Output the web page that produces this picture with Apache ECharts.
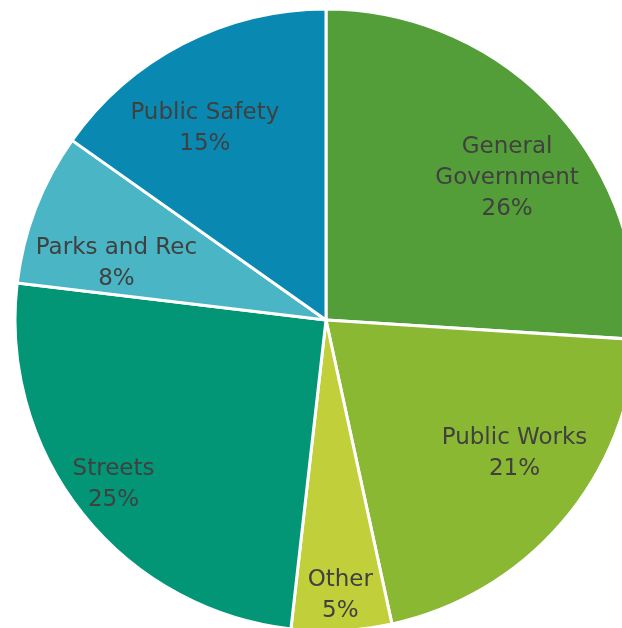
<!DOCTYPE html>
<html>
<head>
<meta charset="utf-8">
<script src="https://cdn.jsdelivr.net/npm/echarts@6/dist/echarts.min.js"></script>
<style>
  html, body { margin: 0; padding: 0; background: #fff; }
  #main { width: 622px; height: 628px; }
</style>
</head>
<body>
<div id="main"></div>
<script>
var categories = ['General Government', 'Public Works', 'Other', 'Streets', 'Parks and Rec', 'Public Safety'];
var shares = [26.0, 20.6, 5.2, 25.1, 7.9, 15.2];
var colors = ['#549E39', '#8AB833', '#C0CF3A', '#029676', '#4AB5C4', '#0989B1'];

// label placement inside each slice: fraction of radius, angle clockwise from 12 o'clock
var labelSpots = [
  { r: 0.744, a: 51.5 },
  { r: 0.74, a: 125 },
  { r: 0.88, a: 177 },
  { r: 0.86, a: 232.6 },
  { r: 0.70, a: 285.7 },
  { r: 0.735, a: 328 }
];

var cx = 326, cy = 320, R = 311;

var chartDom = document.getElementById('main');
var myChart = echarts.init(chartDom);
var option;

option = {
  animation: false,
  color: colors,
  series: [
    {
      type: 'pie',
      center: [cx, cy],
      radius: R,
      startAngle: 90,
      clockwise: true,
      itemStyle: {
        borderColor: '#fff',
        borderWidth: 3
      },
      label: {
        show: true,
        position: 'inner',
        color: '#404040',
        fontFamily: 'DejaVu Sans',
        fontSize: 23,
        lineHeight: 31,
        align: 'center',
        formatter: function (p) {
          return p.name.replace('General ', 'General\n') + '\n' + Math.round(p.percent) + '%';
        }
      },
      labelLayout: function (params) {
        var s = labelSpots[params.dataIndex];
        var rad = s.a * Math.PI / 180;
        return {
          x: cx + s.r * R * Math.sin(rad),
          y: cy - s.r * R * Math.cos(rad) + 2,
          align: 'center',
          verticalAlign: 'middle'
        };
      },
      labelLine: { show: false },
      data: categories.map(function (c, i) {
        return { name: c, value: shares[i] };
      })
    }
  ]
};

option && myChart.setOption(option);
</script>
</body>
</html>
